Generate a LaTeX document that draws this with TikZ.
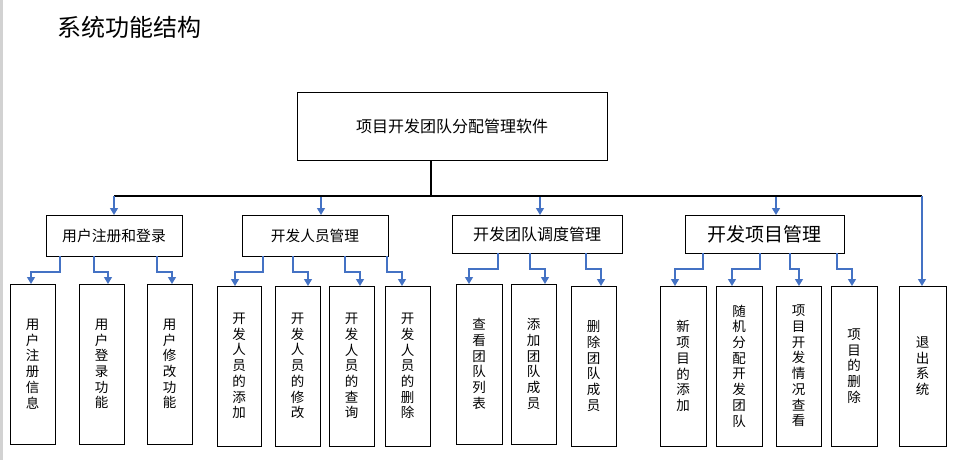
\documentclass[tikz,border=0pt]{standalone}
\usepackage{fontspec}
\setmainfont{Noto Sans CJK SC}
\usetikzlibrary{arrows.meta}
\definecolor{conblue}{HTML}{4472C4}
\newcommand\mybox[7]{%
  \node[#1, minimum width={#5-#3}, minimum height={#6-#4}] (#2) at ({(#3+#5)/2},{(#4+#6)/2}) {#7};}
\newcommand\myconn[6]{% parent child xstart xend midy
  \draw[conn] (#1.south -| #3,0) -- (#3,#5) -- (#4,#5) -- (#2.north -| #4,0);}
\begin{document}
\begin{tikzpicture}[x=1pt,y=-1pt,
  box/.style={draw=black, line width=1pt, inner sep=0pt, outer sep=0pt, align=center, text=black},
  vbox/.style={box, font=\fontsize{13.5}{15.7}\selectfont},
  conn/.style={draw=conblue, line width=1.3pt, -{Triangle[width=8pt,length=7pt]}},
  trunk/.style={draw=black, line width=2.4pt}]
\useasboundingbox (0,0) rectangle (958,460);
\fill[gray!35] (0,0) rectangle (3,460);

\node[anchor=west, inner sep=0pt, font=\fontsize{24}{24}\selectfont] (title) at (57,27) {系统功能结构};

% root
\mybox{box, font=\fontsize{16}{18}\selectfont}{root}{297}{92}{607}{160}{项目开发团队分配管理软件}

% bus
\coordinate (busL) at (114,196);
\coordinate (busR) at (922,196);
\coordinate (trunkX) at (431,0);
\draw[trunk] (root.south -| trunkX) -- (busL -| trunkX);
\draw[trunk] (busL) -- (busR);

% level 1
\mybox{box, font=\fontsize{14.8}{16}\selectfont}{b1}{46}{215}{182}{256}{用户注册和登录}
\mybox{box, font=\fontsize{14.7}{16}\selectfont}{b2}{242}{215}{388}{256}{开发人员管理}
\mybox{box, font=\fontsize{16}{18}\selectfont}{b3}{452}{215}{622}{253}{开发团队调度管理}
\mybox{box, font=\fontsize{19}{20}\selectfont}{b4}{685}{215}{844}{253}{开发项目管理}

% level 2
\mybox{vbox}{c11}{10}{284}{55}{444}{用\\户\\注\\册\\信\\息}
\mybox{vbox}{c12}{79}{284}{124}{444}{用\\户\\登\\录\\功\\能}
\mybox{vbox}{c13}{147}{284}{192}{444}{用\\户\\修\\改\\功\\能}
\mybox{vbox}{c21}{217}{286}{261}{446}{开\\发\\人\\员\\的\\添\\加}
\mybox{vbox}{c22}{275}{286}{320}{446}{开\\发\\人\\员\\的\\修\\改}
\mybox{vbox}{c23}{329}{286}{374}{446}{开\\发\\人\\员\\的\\查\\询}
\mybox{vbox}{c24}{385}{286}{430}{446}{开\\发\\人\\员\\的\\删\\除}
\mybox{vbox}{c31}{456}{284}{502}{444}{查\\看\\团\\队\\列\\表}
\mybox{vbox}{c32}{511}{284}{556}{444}{添\\加\\团\\队\\成\\员}
\mybox{vbox}{c33}{571}{286}{616}{446}{删\\除\\团\\队\\成\\员}
\mybox{vbox}{c41}{660}{286}{706}{446}{新\\项\\目\\的\\添\\加}
\mybox{vbox}{c42}{716}{286}{762}{446}{随\\机\\分\\配\\开\\发\\团\\队}
\mybox{vbox}{c43}{776}{286}{821}{446}{项\\目\\开\\发\\情\\况\\查\\看}
\mybox{vbox}{c44}{831}{286}{877}{446}{项\\目\\的\\删\\除}
\mybox{vbox}{c5}{899}{286}{946}{446}{退\\出\\系\\统}

% bus to level 1
\draw[conn] (busL) -- (b1.north -| busL);
\draw[conn] (321,197) -- (b2.north -| 321,0);
\draw[conn] (540,197) -- (b3.north -| 540,0);
\draw[conn] (776,197) -- (b4.north -| 776,0);
\draw[conn] (busR) -- (c5.north -| busR);

% level 1 to level 2
\myconn{b1}{c11}{60}{31}{272}{}
\myconn{b1}{c12}{94}{108}{272}{}
\myconn{b1}{c13}{157}{172}{272}{}
\myconn{b2}{c21}{263}{235}{272}{}
\myconn{b2}{c22}{293}{308}{272}{}
\myconn{b2}{c23}{345}{360}{272}{}
\myconn{b2}{c24}{387}{402}{272}{}
\myconn{b3}{c31}{498}{469}{269}{}
\myconn{b3}{c32}{530}{545}{269}{}
\myconn{b3}{c33}{586}{601}{269}{}
\myconn{b4}{c41}{703}{675}{269}{}
\myconn{b4}{c42}{760}{732}{269}{}
\myconn{b4}{c43}{790}{799}{269}{}
\myconn{b4}{c44}{837}{852}{269}{}
\end{tikzpicture}
\end{document}
